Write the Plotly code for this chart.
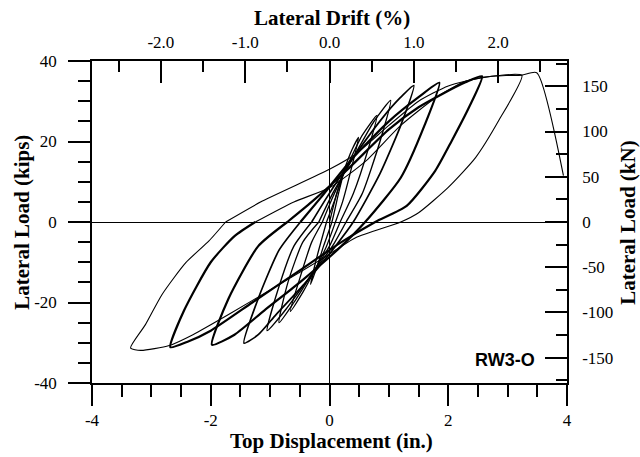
import plotly.graph_objects as go

# ---- data (top displacement in inches, lateral load in kips) ----
disp_c1 = [0.0, 0.12, 0.25, 0.15, 0.04, -0.10, -0.22, -0.32, -0.20, -0.05]
load_c1 = [0.0, 7.0, 13.0, 7.0, 0.0, -6.0, -11.5, -15.5, -8.0, 0.0]

disp_c2 = [-0.05, 0.10, 0.25, 0.38, 0.49, 0.38, 0.22, 0.10, -0.05, -0.25, -0.45, -0.66, -0.50, -0.30, -0.12]
load_c2 = [0.0, 6.0, 13.0, 18.0, 21.0, 14.0, 5.0, 0.0, -6.0, -12.0, -17.5, -22.2, -14.0, -5.0, 0.0]

disp_c3 = [-0.12, 0.05, 0.30, 0.55, 0.80, 0.65, 0.40, 0.18, 0.00, -0.30, -0.60, -0.85, -0.70, -0.45, -0.18]
load_c3 = [0.0, 6.0, 14.0, 21.5, 26.5, 18.0, 7.0, 0.0, -6.0, -13.0, -20.0, -25.0, -15.0, -5.0, 0.0]

disp_c4 = [-0.18, 0.05, 0.40, 0.75, 1.03, 0.85, 0.55, 0.28, 0.05, -0.35, -0.75, -1.05, -0.85, -0.60, -0.30]
load_c4 = [0.0, 7.0, 16.0, 25.0, 30.2, 20.0, 7.0, 0.0, -6.0, -14.0, -22.0, -27.0, -16.0, -6.0, 0.0]

disp_c5 = [-0.30, -0.05, 0.40, 0.90, 1.20, 1.42, 1.20, 0.85, 0.40, 0.10, -0.40, -0.90, -1.20, -1.44, -1.20, -0.85, -0.49]
load_c5 = [0.0, 6.0, 16.0, 26.0, 31.0, 33.9, 24.0, 12.0, 0.0, -6.0, -15.0, -23.0, -28.0, -30.1, -19.0, -7.0, 0.0]

disp_c6 = [-0.49, -0.15, 0.40, 1.00, 1.50, 1.85, 1.60, 1.20, 0.60, 0.20, -0.50, -1.10, -1.60, -1.98, -1.70, -1.20, -0.71]
load_c6 = [0.0, 6.0, 16.0, 25.0, 31.0, 34.6, 24.0, 11.0, 0.0, -6.0, -15.0, -22.0, -28.0, -30.5, -19.0, -6.0, 0.0]

disp_c7 = [-0.71, -0.30, 0.30, 1.00, 1.50, 1.90, 2.29, 2.57, 2.35, 2.06, 1.78, 1.30, 0.77, 0.20, -0.50,
           -1.30, -2.00, -2.40, -2.68, -2.45, -2.00, -1.60, -1.25]
load_c7 = [0.0, 5.0, 13.0, 23.0, 28.5, 31.8, 34.7, 36.2, 28.5, 20.2, 12.7, 4.0, 0.0, -5.0, -12.0,
           -20.0, -27.0, -29.8, -31.1, -22.0, -10.0, -3.5, 0.0]

disp_c8 = [-1.25, -0.60, 0.00, 0.60, 1.20, 1.80, 2.30, 2.85, 3.24, 2.85, 2.46, 2.00, 1.50, 1.20, 0.44,
           -0.12, -0.90, -1.70, -2.30, -2.70, -3.18, -3.35, -3.10, -2.82, -2.42, -2.03, -1.75]
load_c8 = [0.0, 5.0, 8.5, 15.0, 24.0, 31.0, 35.0, 36.4, 36.4, 25.2, 16.0, 8.6, 2.3, 0.0, -3.9,
           -9.1, -16.0, -23.0, -28.0, -30.7, -31.9, -31.3, -25.5, -18.0, -10.1, -4.7, 0.0]

disp_final = [-1.75, -1.13, 0.00, 0.44, 1.00, 1.50, 2.00, 2.60, 3.00, 3.24, 3.49, 3.94]
load_final = [0.0, 5.2, 13.1, 16.9, 24.0, 30.0, 33.8, 36.0, 36.4, 36.5, 37.1, 11.5]

cycles = [
    (disp_c1, load_c1, 1.3),
    (disp_c2, load_c2, 1.3),
    (disp_c3, load_c3, 1.3),
    (disp_c4, load_c4, 1.4),
    (disp_c5, load_c5, 1.7),
    (disp_c6, load_c6, 2.2),
    (disp_c7, load_c7, 2.2),
    (disp_c8, load_c8, 1.1),
    (disp_final, load_final, 1.1),
]

x_ticks = [-4, -2, 0, 2, 4]
x_labels = ["-4", "-2", "0", "2", "4"]
y_ticks = [-40, -20, 0, 20, 40]
y_labels = ["-40", "-20", "0", "20", "40"]
drift_ticks = [-2.0, -1.0, 0.0, 1.0, 2.0]
drift_labels = ["-2.0", "-1.0", "0.0", "1.0", "2.0"]
kn_ticks = [-150, -100, -50, 0, 50, 100, 150]
kn_labels = ["-150", "-100", "-50", "0", "50", "100", "150"]

IN_PER_PCT = 1.42       # inches of top displacement per 1 % drift
KN_PER_KIP = 4.448

serif = "Liberation Serif, Times New Roman, serif"

fig = go.Figure()
for xs, ys, w in cycles:
    fig.add_trace(go.Scatter(x=xs, y=ys, mode="lines",
                             line=dict(color="black", width=w, shape="spline", smoothing=0.6),
                             showlegend=False, hoverinfo="skip"))

# empty anchors for secondary axes
fig.add_trace(go.Scatter(x=[None], y=[None], xaxis="x2", yaxis="y", showlegend=False))
fig.add_trace(go.Scatter(x=[None], y=[None], xaxis="x", yaxis="y2", showlegend=False))

tickfont = dict(family=serif, size=17, color="black")

fig.update_layout(
    width=640, height=457,
    margin=dict(l=92, r=73, t=61, b=74),
    paper_bgcolor="white", plot_bgcolor="white",
    showlegend=False,
    xaxis=dict(range=[-4, 4], tickmode="array", tickvals=x_ticks, ticktext=x_labels,
               ticks="outside", ticklen=21, tickwidth=1.5, tickcolor="black",
               minor=dict(dtick=0.5, ticks="outside", ticklen=12, tickwidth=1.5, tickcolor="black"),
               showline=True, linecolor="black", linewidth=1.5, mirror=False,
               showgrid=False, zeroline=True, zerolinecolor="black", zerolinewidth=1.3,
               tickfont=tickfont, ticklabelstandoff=0, automargin=False),
    xaxis2=dict(range=[-4 / IN_PER_PCT, 4 / IN_PER_PCT], overlaying="x", side="top",
                anchor="y", tickmode="array", tickvals=drift_ticks, ticktext=drift_labels,
                ticks="inside", ticklen=22, tickwidth=1.5, tickcolor="black",
                minor=dict(dtick=0.5, ticks="inside", ticklen=11, tickwidth=1.5, tickcolor="black"),
                showline=True, linecolor="black", linewidth=1.5,
                showgrid=False, zeroline=False, tickfont=tickfont, ticklabelstandoff=4,
                automargin=False),
    yaxis=dict(range=[-40, 40], tickmode="array", tickvals=y_ticks, ticktext=y_labels,
               ticks="outside", ticklen=22, tickwidth=1.5, tickcolor="black",
               minor=dict(dtick=5, ticks="outside", ticklen=12, tickwidth=1.5, tickcolor="black"),
               showline=True, linecolor="black", linewidth=1.5,
               showgrid=False, zeroline=True, zerolinecolor="black", zerolinewidth=1.3,
               tickfont=tickfont, ticklabelstandoff=8, automargin=False),
    yaxis2=dict(range=[-40 * KN_PER_KIP, 40 * KN_PER_KIP], overlaying="y", side="right",
                anchor="x", tickmode="array", tickvals=kn_ticks, ticktext=kn_labels,
                ticks="inside", ticklen=22, tickwidth=1.5, tickcolor="black",
                minor=dict(dtick=25, ticks="inside", ticklen=11, tickwidth=1.5, tickcolor="black"),
                showline=True, linecolor="black", linewidth=1.5,
                showgrid=False, zeroline=False, tickfont=tickfont, ticklabelstandoff=10,
                automargin=False),
)

titlefont = dict(family=serif, size=21, color="black")
fig.add_annotation(text="<b>Lateral Drift (%)</b>", xref="paper", yref="paper",
                   x=0.505, y=1.134, showarrow=False, font=titlefont, yanchor="middle")
fig.add_annotation(text="<b>Top Displacement (in.)</b>", xref="paper", yref="paper",
                   x=0.505, y=-0.18, showarrow=False, font=titlefont, yanchor="middle")
fig.add_annotation(text="<b>Lateral Load (kips)</b>", xref="paper", yref="paper",
                   x=-0.148, y=0.5, showarrow=False, font=titlefont, textangle=-90,
                   xanchor="center", yanchor="middle")
fig.add_annotation(text="<b>Lateral Load (kN)</b>", xref="paper", yref="paper",
                   x=1.128, y=0.5, showarrow=False, font=titlefont, textangle=-90,
                   xanchor="center", yanchor="middle")
fig.add_annotation(text="<b>RW3-O</b>", xref="x", yref="y", x=2.96, y=-34.3,
                   showarrow=False,
                   font=dict(family="Liberation Sans, Arial, sans-serif", size=18, color="black"))

fig.write_html("out.html", config={"displayModeBar": False},
               post_script="document.body.style.margin='0px';")
